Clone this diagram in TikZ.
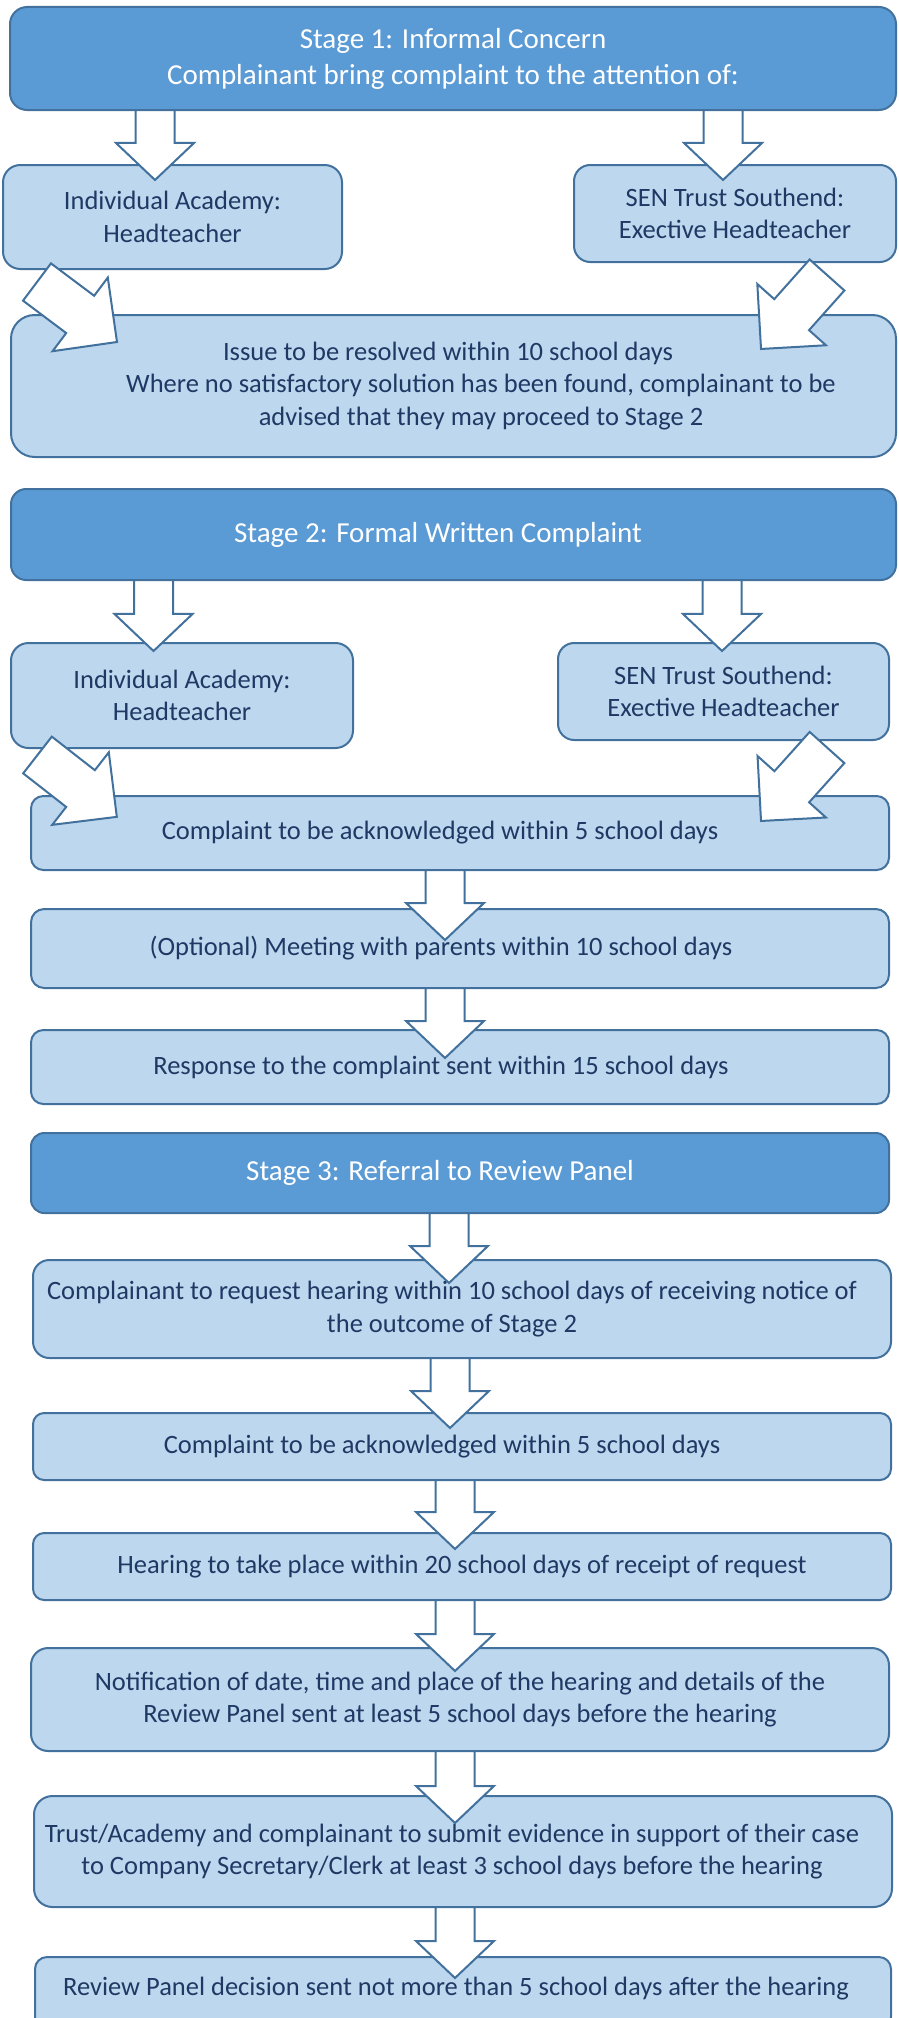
\documentclass[tikz,border=0pt]{standalone}
\usepackage{fontspec}
\setmainfont{Carlito}
\usetikzlibrary{calc,shapes.arrows}

\definecolor{headblue}{RGB}{91,155,213}
\definecolor{paleblue}{RGB}{189,215,238}
\definecolor{edgeblue}{RGB}{65,113,156}
\definecolor{inkblue}{RGB}{31,56,100}

\tikzset{
    box/.style={draw=edgeblue, fill=paleblue, line width=2pt, inner sep=0pt, outer sep=0pt,
        align=center, text=inkblue, font=\fontsize{26.5}{32.5}\selectfont,
        minimum height=#1, rounded corners=#1/6},
    stagebox/.style={box=#1, fill=headblue, text=white, font=\fontsize{29}{36}\selectfont},
    barrow/.style={single arrow, draw=edgeblue, fill=white, line width=2pt,
        inner xsep=0pt, outer sep=0pt, anchor=tail},
    downarrow/.style={barrow, inner ysep=18.5pt, single arrow head extend=19.5pt, single arrow tip angle=93},
    slantarrow/.style={barrow, inner ysep=22.3pt, single arrow head extend=22.7pt, single arrow tip angle=90}
}

% block arrow from tail point to tip point
\newcommand{\blockarrow}[3]{%
    \path let \p1=#2, \p2=#3, \n1={atan2(\y2-\y1,\x2-\x1)}, \n2={veclen(\x2-\x1,\y2-\y1)} in
        node[#1, rotate=\n1, minimum height=\n2] at (\p1) {};%
}

\begin{document}
\begin{tikzpicture}[x=1pt, y=-1pt]
    \useasboundingbox (0,0) rectangle (898,2018);

    % Stage 1
    \node[stagebox=103pt, minimum width=886pt] (s1) at (453,58.5) {Stage 1: Informal Concern\\Complainant bring complaint to the attention of:};
    \node[box=104pt, minimum width=339pt] (ind1) at (172.5,217) {Individual Academy:\\Headteacher};
    \node[box=97pt, minimum width=322pt] (sen1) at (735,213.5) {SEN Trust Southend:\\Exective Headteacher};
    \node[box=142pt, minimum width=885pt] (issue) at (453.5,386) {Issue to be resolved within 10 school days\hspace*{11pt}\\\hspace*{55pt}Where no satisfactory solution has been found, complainant to be\\\hspace*{55pt}advised that they may proceed to Stage 2};

    % Stage 2
    \node[stagebox=91pt, minimum width=885pt] (s2) at (453.5,534.5) {Stage 2: Formal Written Complaint\hspace*{31pt}};
    \node[box=105pt, minimum width=342pt] (ind2) at (182,695.5) {Individual Academy:\\Headteacher};
    \node[box=97pt, minimum width=331pt] (sen2) at (723.5,691.5) {SEN Trust Southend:\\Exective Headteacher};
    \node[box=74pt, minimum width=858pt] (ack1) at (460,833) {Complaint to be acknowledged within 5 school days\hspace*{40pt}};
    \node[box=79pt, minimum width=858pt] (opt) at (460,948.5) {(Optional) Meeting with parents within 10 school days\hspace*{38pt}};
    \node[box=74pt, minimum width=858pt] (resp) at (460,1067) {Response to the complaint sent within 15 school days\hspace*{38pt}};

    % Stage 3
    \node[stagebox=80pt, minimum width=858pt] (s3) at (460,1173) {Stage 3: Referral to Review Panel\hspace*{40pt}};
    \node[box=98pt, minimum width=858pt] (req) at (462,1309) {Complainant to request hearing within 10 school days of receiving notice of\hspace*{20pt}\\the outcome of Stage 2\hspace*{20pt}};
    \node[box=67pt, minimum width=858pt] (ack2) at (462,1446.5) {Complaint to be acknowledged within 5 school days\hspace*{40pt}};
    \node[box=67pt, minimum width=858pt] (hear) at (462,1566.5) {Hearing to take place within 20 school days of receipt of request};
    \node[box=103pt, minimum width=858pt] (notif) at (460,1699.5) {Notification of date, time and place of the hearing and details of the\\Review Panel sent at least 5 school days before the hearing};
    \node[box=111pt, minimum width=858pt] (trust) at (463,1851.5) {Trust/Academy and complainant to submit evidence in support of their case\hspace*{22pt}\\to Company Secretary/Clerk at least 3 school days before the hearing\hspace*{22pt}};
    \node[box=72pt, minimum width=856pt, text depth=14pt] (rev) at (463,1993) {Review Panel decision sent not more than 5 school days after the hearing\hspace*{14pt}};

    % Straight down arrows
    \foreach \src/\dst/\ax/\dd in {s1/ind1/155/15, s1/sen1/723/15, s2/ind2/153.5/8, s2/sen2/722/8,
            ack1/opt/445/31, opt/resp/445/28, s3/req/449/23, req/ack2/450/15,
            ack2/hear/455/16, hear/notif/455/23, notif/trust/455/27, trust/rev/455/21} {
        \blockarrow{downarrow}{(\ax,0 |- \src.south)}{($(\ax,0 |- \dst.north)+(0,\dd)$)}
    }

    % Slanted arrows into the wide boxes
    \blockarrow{slantarrow}{($(ind1.south west)+(34,13)$)}{($(issue.north west)+(106,27)$)}
    \blockarrow{slantarrow}{($(sen1.south east)+(-69,13)$)}{($(issue.north east)+(-135,34)$)}
    \blockarrow{slantarrow}{($(ind2.south west)+(26.5,7)$)}{($(ack1.north west)+(86,21)$)}
    \blockarrow{slantarrow}{($(sen2.south east)+(-62,7.5)$)}{($(ack1.north east)+(-128,25)$)}
\end{tikzpicture}
\end{document}
